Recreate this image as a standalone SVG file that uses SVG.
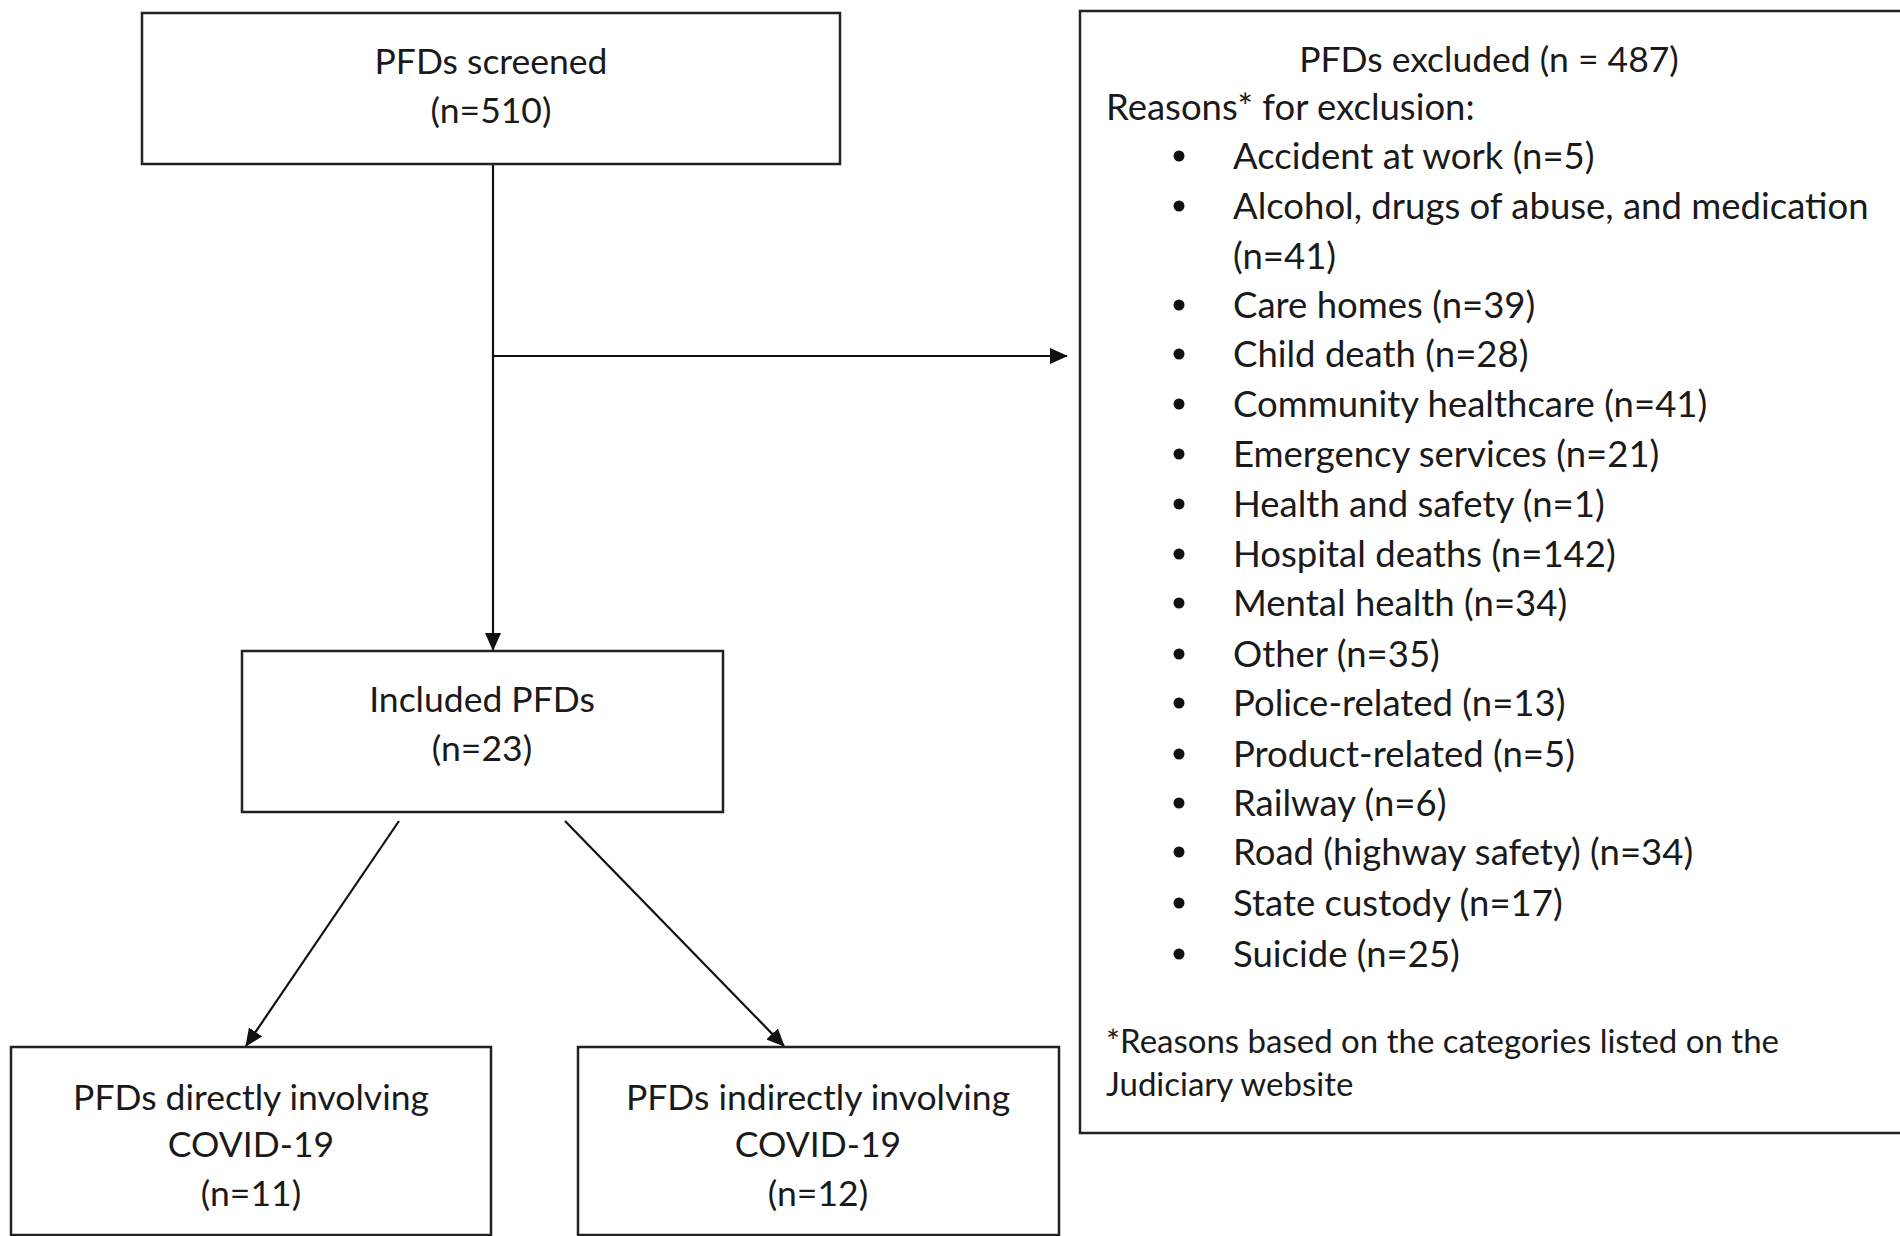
<svg xmlns="http://www.w3.org/2000/svg" width="1900" height="1236" viewBox="0 0 1900 1236">
<defs>
<marker id="ah" markerWidth="18" markerHeight="16" refX="17" refY="8" orient="auto" markerUnits="userSpaceOnUse" viewBox="0 0 18 16">
<path d="M0,0 L18,8 L0,16 Z" fill="#111"/>
</marker>
<style>
.box{fill:#fff;stroke:#222;stroke-width:2.5}
.t{font-family:Lato,"Open Sans","Liberation Sans",sans-serif;font-size:36.5px;fill:#1a1a1a}
.h{font-size:35.5px}
.c{text-anchor:middle}
.f{font-size:33px}
.ln{stroke:#111;stroke-width:2.2;fill:none}
</style>
</defs>
<rect width="1900" height="1236" fill="#fff"/>
<g id="connectors">
<line class="ln" x1="493" y1="164" x2="493" y2="650" marker-end="url(#ah)"/>
<line class="ln" x1="493" y1="356" x2="1067" y2="356" marker-end="url(#ah)"/>
<line class="ln" x1="399" y1="821" x2="246" y2="1046" marker-end="url(#ah)"/>
<line class="ln" x1="565" y1="821" x2="784" y2="1046" marker-end="url(#ah)"/>
</g>
<g id="screened">
<rect class="box" x="142" y="13" width="698" height="151"/>
<text class="t h c" x="491" y="74">PFDs screened</text>
<text class="t h c" x="491" y="123">(n=510)</text>
</g>
<g id="included">
<rect class="box" x="242" y="651" width="481" height="161"/>
<text class="t h c" x="482" y="712">Included PFDs</text>
<text class="t h c" x="482" y="761">(n=23)</text>
</g>
<g id="direct">
<rect class="box" x="11" y="1047" width="480" height="188"/>
<text class="t h c" x="251" y="1110">PFDs directly involving</text>
<text class="t h c" x="251" y="1157">COVID-19</text>
<text class="t h c" x="251" y="1206">(n=11)</text>
</g>
<g id="indirect">
<rect class="box" x="578" y="1047" width="481" height="188"/>
<text class="t h c" x="818" y="1110">PFDs indirectly involving</text>
<text class="t h c" x="818" y="1157">COVID-19</text>
<text class="t h c" x="818" y="1206">(n=12)</text>
</g>
<g id="excluded">
<rect class="box" x="1080" y="11" width="824" height="1122"/>
<text class="t h c" x="1489" y="72">PFDs excluded (n = 487)</text>
<text class="t" x="1106" y="120">Reasons* for exclusion:</text>
<g fill="#111">
<circle cx="1179" cy="156" r="5.5"/>
<circle cx="1179" cy="206" r="5.5"/>
<circle cx="1179" cy="305" r="5.5"/>
<circle cx="1179" cy="354" r="5.5"/>
<circle cx="1179" cy="404" r="5.5"/>
<circle cx="1179" cy="454" r="5.5"/>
<circle cx="1179" cy="504" r="5.5"/>
<circle cx="1179" cy="554" r="5.5"/>
<circle cx="1179" cy="603" r="5.5"/>
<circle cx="1179" cy="654" r="5.5"/>
<circle cx="1179" cy="703" r="5.5"/>
<circle cx="1179" cy="754" r="5.5"/>
<circle cx="1179" cy="803" r="5.5"/>
<circle cx="1179" cy="852" r="5.5"/>
<circle cx="1179" cy="903" r="5.5"/>
<circle cx="1179" cy="954" r="5.5"/>
</g>
<text class="t" x="1233" y="169">Accident at work (n=5)</text>
<text class="t" x="1233" y="219">Alcohol, drugs of abuse, and medication</text>
<text class="t" x="1233" y="269">(n=41)</text>
<text class="t" x="1233" y="318">Care homes (n=39)</text>
<text class="t" x="1233" y="367">Child death (n=28)</text>
<text class="t" x="1233" y="417">Community healthcare (n=41)</text>
<text class="t" x="1233" y="467">Emergency services (n=21)</text>
<text class="t" x="1233" y="517">Health and safety (n=1)</text>
<text class="t" x="1233" y="567">Hospital deaths (n=142)</text>
<text class="t" x="1233" y="616">Mental health (n=34)</text>
<text class="t" x="1233" y="667">Other (n=35)</text>
<text class="t" x="1233" y="716">Police-related (n=13)</text>
<text class="t" x="1233" y="767">Product-related (n=5)</text>
<text class="t" x="1233" y="816">Railway (n=6)</text>
<text class="t" x="1233" y="865">Road (highway safety) (n=34)</text>
<text class="t" x="1233" y="916">State custody (n=17)</text>
<text class="t" x="1233" y="967">Suicide (n=25)</text>
<text class="t f" x="1106" y="1053">*Reasons based on the categories listed on the</text>
<text class="t f" x="1106" y="1096">Judiciary website</text>
</g>
</svg>
